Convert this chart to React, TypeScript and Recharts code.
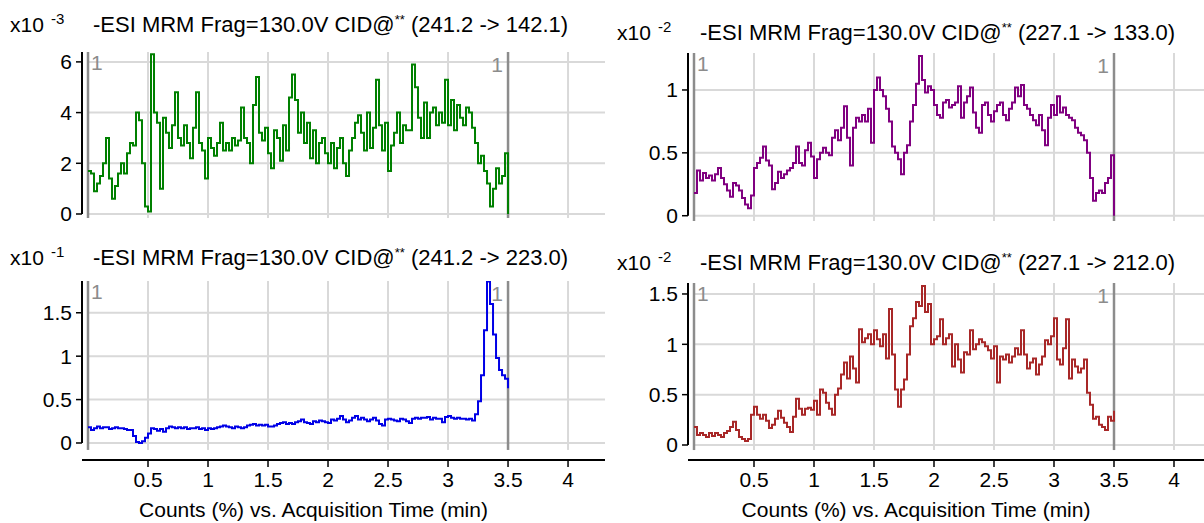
import React from 'react';
import { LineChart, Line, XAxis, YAxis, ReferenceLine } from 'recharts';

const FONT = '"Liberation Sans", Arial, sans-serif';
const GRID = '#d9d9d9';
const MARK = '#8c8c8c';

// sampling step of the traces (min)
const STEP = 0.025;

const X_TICKS = [0.5, 1, 1.5, 2, 2.5, 3, 3.5, 4];
const RANGE_START = 0;
const RANGE_END = 3.5;

const TRANSITIONS = ['(241.2 -> 142.1)', '(227.1 -> 133.0)', '(241.2 -> 223.0)', '(227.1 -> 212.0)'];
const EXPONENTS = ['-3', '-2', '-1', '-2'];

// x10^-3
const TRACE_142 = [
  1.7, 1.6, 0.9, 1.2, 1.5, 2.0, 3.0, 1.4, 0.6, 1.1,
  1.6, 2.0, 1.6, 2.4, 2.8, 2.7, 4.0, 3.7, 2.0, 0.3,
  0.1, 6.3, 4.0, 3.6, 1.0, 3.8, 3.2, 2.6, 3.5, 4.8,
  3.0, 2.7, 3.5, 2.8, 2.2, 3.4, 4.8, 2.8, 2.5, 1.4,
  3.0, 2.6, 2.3, 2.8, 3.6, 2.5, 2.8, 2.5, 3.0, 2.7,
  2.9, 4.2, 3.0, 2.8, 2.0, 4.3, 5.4, 3.2, 2.9, 3.4,
  2.4, 1.8, 3.3, 3.0, 2.1, 3.5, 2.5, 4.6, 5.5, 4.5,
  3.2, 4.0, 2.8, 3.6, 2.2, 3.3, 2.0, 2.8, 3.0, 2.4,
  2.0, 2.8, 1.8, 2.6, 3.0, 2.0, 1.5, 2.5, 3.0, 3.6,
  3.9, 3.2, 2.5, 4.0, 2.6, 3.4, 5.3, 3.5, 2.5, 3.6,
  1.7, 2.7, 3.2, 4.0, 2.8, 3.5, 3.3, 3.3, 5.9, 5.0,
  3.8, 3.0, 4.4, 3.0, 4.0, 4.2, 3.5, 4.0, 3.6, 5.3,
  3.5, 4.5, 3.3, 4.3, 3.8, 3.5, 4.2, 4.0, 3.4, 2.8,
  2.0, 2.3, 1.7, 1.2, 0.3, 1.0, 1.8, 1.2, 1.5, 2.4,
  0.0,
];

// x10^-2
const TRACE_133 = [
  0.18, 0.36, 0.28, 0.34, 0.30, 0.32, 0.28, 0.33, 0.38, 0.30,
  0.25, 0.20, 0.15, 0.26, 0.24, 0.20, 0.14, 0.09, 0.06, 0.16,
  0.38, 0.42, 0.46, 0.55, 0.44, 0.40, 0.21, 0.26, 0.35, 0.30,
  0.33, 0.36, 0.38, 0.42, 0.55, 0.42, 0.40, 0.52, 0.58, 0.47,
  0.30, 0.45, 0.50, 0.54, 0.50, 0.48, 0.62, 0.68, 0.60, 0.70,
  0.87, 0.62, 0.40, 0.70, 0.78, 0.75, 0.80, 0.75, 0.85, 0.58,
  1.00, 1.10, 1.00, 0.95, 0.85, 0.75, 0.55, 0.50, 0.45, 0.33,
  0.50, 0.56, 0.75, 0.88, 1.05, 1.27, 1.08, 0.98, 1.03, 1.00,
  0.88, 0.80, 0.78, 0.90, 0.92, 0.86, 0.88, 0.90, 1.03, 0.78,
  0.90, 0.95, 1.02, 0.82, 0.70, 0.66, 0.88, 0.90, 0.80, 0.75,
  0.83, 0.88, 0.90, 0.80, 0.76, 0.85, 0.90, 1.02, 0.95, 1.04,
  0.88, 0.85, 0.80, 0.76, 0.72, 0.80, 0.68, 0.56, 0.78, 0.88,
  0.80, 0.95, 0.82, 0.86, 0.80, 0.78, 0.76, 0.70, 0.66, 0.64,
  0.60, 0.50, 0.30, 0.12, 0.18, 0.20, 0.18, 0.26, 0.30, 0.48,
  0.0,
];

// x10^-1
const TRACE_223 = [
  0.18, 0.15, 0.17, 0.19, 0.17, 0.18, 0.18, 0.16, 0.17, 0.18,
  0.17, 0.17, 0.16, 0.15, 0.15, 0.08, 0.01, 0.0, 0.02, 0.06,
  0.11, 0.17, 0.16, 0.14, 0.16, 0.13, 0.17, 0.19, 0.18, 0.17,
  0.18, 0.17, 0.18, 0.16, 0.17, 0.17, 0.18, 0.16, 0.17, 0.15,
  0.17, 0.16, 0.17, 0.18, 0.19, 0.20, 0.19, 0.18, 0.17, 0.19,
  0.18, 0.17, 0.18, 0.20, 0.21, 0.22, 0.20, 0.21, 0.20, 0.21,
  0.19, 0.19, 0.20, 0.22, 0.23, 0.24, 0.22, 0.23, 0.22, 0.24,
  0.25, 0.27, 0.24, 0.23, 0.22, 0.25, 0.24, 0.26, 0.25, 0.24,
  0.23, 0.27, 0.26, 0.28, 0.31, 0.27, 0.24, 0.26, 0.29, 0.31,
  0.27, 0.29, 0.27, 0.25, 0.27, 0.29, 0.26, 0.22, 0.20, 0.27,
  0.28, 0.27, 0.26, 0.25, 0.28, 0.27, 0.25, 0.23, 0.28, 0.29,
  0.28, 0.29, 0.29, 0.30, 0.27, 0.29, 0.28, 0.28, 0.24, 0.30,
  0.31, 0.29, 0.28, 0.29, 0.28, 0.28, 0.27, 0.28, 0.26, 0.33,
  0.48, 0.78, 1.30, 1.86, 1.60, 1.25, 0.98, 0.84, 0.78, 0.74,
  0.63,
];

// x10^-2
const TRACE_212 = [
  0.18, 0.10, 0.12, 0.10, 0.08, 0.12, 0.09, 0.12, 0.10, 0.08,
  0.12, 0.14, 0.18, 0.23, 0.15, 0.08, 0.06, 0.04, 0.06, 0.30,
  0.38, 0.30, 0.26, 0.30, 0.24, 0.17, 0.20, 0.26, 0.34, 0.27,
  0.22, 0.18, 0.13, 0.28, 0.46, 0.36, 0.30, 0.36, 0.37, 0.35,
  0.44, 0.30, 0.55, 0.52, 0.42, 0.36, 0.30, 0.50, 0.56, 0.70,
  0.82, 0.66, 0.88, 0.76, 0.62, 1.15, 1.02, 1.06, 1.10, 1.00,
  1.14, 1.05, 0.98, 1.10, 0.86, 1.35, 0.90, 0.55, 0.38, 0.55,
  0.65, 0.90, 1.18, 1.26, 1.42, 1.38, 1.58, 1.32, 1.40, 1.00,
  1.05, 1.08, 1.25, 1.00, 1.06, 1.10, 0.78, 1.00, 0.85, 0.72,
  0.92, 0.90, 1.14, 0.95, 1.00, 1.05, 1.02, 0.98, 0.94, 0.86,
  0.98, 0.62, 0.88, 0.85, 0.90, 0.82, 0.88, 0.96, 0.90, 1.14,
  0.90, 0.76, 0.82, 0.86, 0.70, 0.80, 0.88, 1.04, 1.00, 1.08,
  1.26, 0.85, 0.80, 0.96, 1.25, 0.66, 0.85, 0.78, 0.72, 0.76,
  0.85, 0.52, 0.40, 0.26, 0.28, 0.20, 0.18, 0.15, 0.28, 0.24,
  0.34,
];

const toRows = (values: number[]) =>
  values.map((v, i) => ({ t: Math.round(i * STEP * 1000) / 1000, v }));

interface PanelProps {
  left: number;
  top: number;
  width: number;
  height: number;
  marginTop: number;
  marginBottom: number;
  axisWidth: number;
  xDomain: [number, number];
  yDomain: [number, number];
  gridFloor: number;
  yTicks: number[];
  values: number[];
  color: string;
  showX: boolean;
}

const tickStyle = { fill: '#000', fontSize: 21, fontFamily: FONT };

const Panel: React.FC<PanelProps> = ({
  left,
  top,
  width,
  height,
  marginTop,
  marginBottom,
  axisWidth,
  xDomain,
  yDomain,
  gridFloor,
  yTicks,
  values,
  color,
  showX,
}) => {
  const rows = toRows(values);
  return (
    <div style={{ position: 'absolute', left, top }}>
      <LineChart
        width={width}
        height={height}
        data={rows}
        margin={{ top: marginTop, right: 0, bottom: marginBottom, left: 0 }}
      >
        <XAxis
          dataKey="t"
          type="number"
          domain={xDomain}
          allowDataOverflow
          ticks={X_TICKS}
          interval={0}
          hide={!showX}
          height={showX ? 63 : 0}
          axisLine={{ stroke: '#000', strokeWidth: 2 }}
          tickLine={{ stroke: '#000', strokeWidth: 1.5 }}
          tickSize={7}
          tickMargin={5}
          tick={tickStyle}
          label={{
            value: 'Counts (%) vs. Acquisition Time (min)',
            position: 'insideBottom',
            offset: 6,
            dx: -30,
            fill: '#000',
            fontSize: 21,
            fontFamily: FONT,
          }}
        />
        <YAxis
          type="number"
          domain={yDomain}
          allowDataOverflow
          ticks={yTicks}
          interval={0}
          width={axisWidth}
          axisLine={false}
          tickLine={{ stroke: '#000', strokeWidth: 1.5 }}
          tickSize={6}
          tickMargin={4}
          tick={tickStyle}
        />
        {yTicks.map((y) => (
          <ReferenceLine
            key={'h' + y}
            segment={[{ x: RANGE_START, y }, { x: xDomain[1], y }]}
            stroke={GRID}
            strokeWidth={2}
          />
        ))}
        {X_TICKS.map((x) => (
          <ReferenceLine
            key={'v' + x}
            segment={[{ x, y: gridFloor }, { x, y: yDomain[1] }]}
            stroke={GRID}
            strokeWidth={2}
          />
        ))}
        <ReferenceLine
          segment={[{ x: RANGE_START, y: gridFloor }, { x: RANGE_START, y: yDomain[1] }]}
          stroke={MARK}
          strokeWidth={2.5}
          label={{ value: '1', position: 'insideTopLeft', offset: 3, fill: MARK, fontSize: 21, fontFamily: FONT }}
        />
        <ReferenceLine
          segment={[{ x: RANGE_END, y: gridFloor }, { x: RANGE_END, y: yDomain[1] }]}
          stroke={MARK}
          strokeWidth={2.5}
          label={{ value: '1', position: 'insideTopRight', offset: 5, fill: MARK, fontSize: 21, fontFamily: FONT }}
        />
        <ReferenceLine
          segment={[{ x: xDomain[0], y: 0 }, { x: xDomain[0], y: yDomain[1] }]}
          stroke="#000"
          strokeWidth={2}
        />
        <Line
          type="stepAfter"
          dataKey="v"
          stroke={color}
          strokeWidth={2}
          dot={false}
          isAnimationActive={false}
        />
      </LineChart>
    </div>
  );
};

const Title: React.FC<{ x: number; y: number; exp: string; transition: string }> = ({ x, y, exp, transition }) => (
  <g fontFamily={FONT} fill="#000" style={{ whiteSpace: 'pre' }}>
    <text x={x} y={y} fontSize={21}>x10</text>
    <text x={x + 41} y={y - 8} fontSize={15}>{exp}</text>
    <text x={x + 83} y={y} fontSize={22}>
      -ESI MRM Frag=130.0V CID@
      <tspan fontSize={13} dy={-8}>**</tspan>
      <tspan dy={8}>{' ' + transition}</tspan>
    </text>
  </g>
);

export default function App() {
  return (
    <div
      style={{
        position: 'absolute',
        left: 0,
        top: 0,
        width: 1204,
        height: 523,
        background: '#fff',
        overflow: 'hidden',
      }}
    >
      <Panel
        left={0}
        top={0}
        width={605}
        height={232}
        marginTop={52}
        marginBottom={14}
        axisWidth={82}
        xDomain={[-0.05, 4.308]}
        yDomain={[-0.158, 6.39]}
        gridFloor={-0.158}
        yTicks={[0, 2, 4, 6]}
        values={TRACE_142}
        color="#008000"
        showX={false}
      />
      <Panel
        left={605}
        top={0}
        width={599}
        height={233}
        marginTop={53}
        marginBottom={12}
        axisWidth={83}
        xDomain={[-0.05, 4.25]}
        yDomain={[-0.042, 1.294]}
        gridFloor={-0.042}
        yTicks={[0, 0.5, 1]}
        values={TRACE_133}
        color="#800080"
        showX={false}
      />
      <Panel
        left={0}
        top={235}
        width={605}
        height={288}
        marginTop={46}
        marginBottom={0}
        axisWidth={82}
        xDomain={[-0.05, 4.308]}
        yDomain={[-0.196, 1.866]}
        gridFloor={-0.08}
        yTicks={[0, 0.5, 1, 1.5]}
        values={TRACE_223}
        color="#0000e6"
        showX
      />
      <Panel
        left={605}
        top={235}
        width={599}
        height={288}
        marginTop={48}
        marginBottom={0}
        axisWidth={83}
        xDomain={[-0.05, 4.25]}
        yDomain={[-0.149, 1.609]}
        gridFloor={-0.05}
        yTicks={[0, 0.5, 1, 1.5]}
        values={TRACE_212}
        color="#a82828"
        showX
      />
      <svg
        width={1204}
        height={523}
        style={{ position: 'absolute', left: 0, top: 0, pointerEvents: 'none' }}
      >
        <Title x={10} y={32} exp={EXPONENTS[0]} transition={TRANSITIONS[0]} />
        <Title x={617} y={40} exp={EXPONENTS[1]} transition={TRANSITIONS[1]} />
        <Title x={10} y={265} exp={EXPONENTS[2]} transition={TRANSITIONS[2]} />
        <Title x={617} y={270} exp={EXPONENTS[3]} transition={TRANSITIONS[3]} />
      </svg>
    </div>
  );
}
